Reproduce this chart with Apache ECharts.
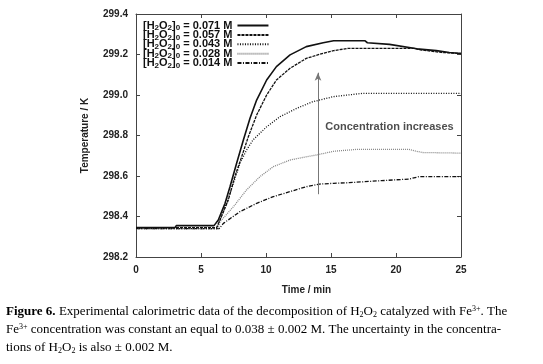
<!DOCTYPE html>
<html>
<head>
<meta charset="utf-8">
<script src="https://cdn.jsdelivr.net/npm/echarts@6/dist/echarts.min.js"></script>
<style>
  html, body { margin: 0; padding: 0; background: #fff; }
  #chart { width: 543px; height: 364px; }
</style>
</head>
<body>
<div id="chart"></div>
<script>
// concentrations of H2O2 (M), one curve each
const concentrations = ['0.071', '0.057', '0.043', '0.028', '0.014']

// time (min) and temperature (K)
const t071 = [0, 3, 3.1, 6.0, 6.33, 6.85, 7.23, 7.74, 8.26, 8.77, 9.28, 10.05, 10.8, 11.85, 13.1, 14.4, 15.2, 17.6, 17.8, 19.5, 21.6, 23.1, 24.1, 25]
const T071 = [298.345, 298.345, 298.355, 298.355, 298.383, 298.465, 298.547, 298.663, 298.778, 298.885, 298.975, 299.074, 299.14, 299.198, 299.239, 299.258, 299.268, 299.268, 299.258, 299.25, 299.228, 299.219, 299.21, 299.205]

const t057 = [0, 6.2, 6.46, 7.1, 7.6, 8.13, 8.64, 9.28, 10.05, 10.8, 11.85, 13.1, 14.4, 15.2, 16.3, 21.4, 22, 23.5, 25]
const T057 = [298.345, 298.345, 298.383, 298.481, 298.597, 298.695, 298.794, 298.901, 299.0, 299.074, 299.132, 299.181, 299.206, 299.219, 299.23, 299.23, 299.222, 299.21, 299.205]

const t043 = [0, 6.2, 6.46, 6.97, 7.49, 8.0, 8.5, 9.0, 10.05, 11.08, 12.36, 13.6, 15.2, 17.4, 25]
const T043 = [298.34, 298.34, 298.383, 298.465, 298.564, 298.663, 298.728, 298.778, 298.843, 298.893, 298.934, 298.967, 298.992, 299.008, 299.008]

const t028 = [0, 6.3, 6.46, 7.49, 8.5, 9.54, 10.56, 11.85, 13.1, 13.9, 15.2, 16.9, 21, 22, 25]
const T028 = [298.34, 298.34, 298.374, 298.448, 298.531, 298.597, 298.646, 298.679, 298.695, 298.704, 298.722, 298.731, 298.731, 298.716, 298.713]

const t014 = [0, 6.4, 6.72, 8.0, 9.28, 10.56, 11.85, 13.1, 14.1, 15.2, 16.4, 18.9, 21, 21.8, 25]
const T014 = [298.34, 298.34, 298.366, 298.424, 298.465, 298.498, 298.523, 298.547, 298.56, 298.564, 298.567, 298.577, 298.585, 298.597, 298.597]

// annotation arrow and its text
const arrowFrom = [14, 298.51]
const arrowTo = [14, 299.11]
const noteAt = [19.5, 298.84]
const noteText = 'Concentration increases'

const times = [t071, t057, t043, t028, t014]
const temps = [T071, T057, T043, T028, T014]
const lineStyles = [
  { color: '#111', width: 1.6, type: 'solid' },
  { color: '#111', width: 1.3, type: [3, 1] },
  { color: '#111', width: 1.3, type: [1, 1.5] },
  { color: '#888', width: 1.3, type: [1, 1] },
  { color: '#111', width: 1.3, type: [4, 1.5, 1, 1.5] }
]

const pairs = (xs, ys) => xs.map((x, i) => [x, ys[i]])

const chart = echarts.init(document.getElementById('chart'), null, { renderer: 'canvas' })

const series = concentrations.map((c, i) => ({
  name: c,
  type: 'line',
  data: pairs(times[i], temps[i]),
  showSymbol: false,
  symbol: 'none',
  lineStyle: lineStyles[i],
  itemStyle: { color: lineStyles[i].color },
  animation: false,
  z: 5 - i
}))

series.push({
  type: 'line',
  data: [],
  markLine: {
    silent: true,
    symbol: ['none', 'arrow'],
    symbolSize: [5, 8],
    label: { show: false },
    lineStyle: { color: '#777', width: 1, type: 'solid' },
    data: [[{ coord: arrowFrom }, { coord: arrowTo }]],
    animation: false
  }
})

series.push({
  type: 'scatter',
  data: [noteAt],
  symbolSize: 0,
  label: {
    show: true,
    position: 'inside',
    formatter: noteText,
    fontFamily: 'Liberation Sans',
    fontWeight: 'bold',
    fontSize: 11,
    color: '#222'
  },
  animation: false
})

const axisFont = { fontFamily: 'Liberation Sans', fontWeight: 'bold', fontSize: 10, color: '#222' }
const sub = { fontSize: 8, fontWeight: 'bold', fontFamily: 'Liberation Sans', color: '#111', padding: [5, 0, 0, 0] }
const sup = { fontSize: 8, fontFamily: 'Liberation Serif', color: '#111', padding: [0, 0, 5, 0] }
const cap = { fontSize: 13, fontFamily: 'Liberation Serif', color: '#111' }

chart.setOption({
  animation: false,
  grid: { left: 136, right: 82, top: 14, bottom: 107 },
  legend: {
    data: concentrations,
    orient: 'vertical',
    left: 143,
    top: 19,
    align: 'right',
    itemWidth: 31,
    itemHeight: 6,
    itemGap: -3.6,
    padding: 0,
    itemStyle: { opacity: 0 },
    formatter: (name) => `{b|[H}{s|2}{b|O}{s|2}{b|]}{s|0}{b| = ${name} M}`,
    textStyle: {
      padding: [0, 0, 0, 0],
      rich: {
        b: { fontSize: 11, fontWeight: 'bold', fontFamily: 'Liberation Sans', color: '#111', lineHeight: 9 },
        s: Object.assign({ lineHeight: 9 }, sub)
      }
    }
  },
  xAxis: [
    {
      type: 'value', min: 0, max: 25, interval: 5,
      name: 'Time / min', nameLocation: 'middle', nameGap: 28,
      nameTextStyle: { fontFamily: 'Liberation Sans', fontWeight: 'bold', fontSize: 10, color: '#222', padding: [0, 0, 0, 16] },
      axisLine: { onZero: false, lineStyle: { color: '#444', width: 1 } },
      axisTick: { inside: true, length: 4, lineStyle: { color: '#444' } },
      axisLabel: Object.assign({ margin: 8 }, axisFont),
      splitLine: { show: false }
    },
    {
      type: 'value', min: 0, max: 25, interval: 5, position: 'top',
      axisLine: { onZero: false, lineStyle: { color: '#444', width: 1 } },
      axisTick: { inside: true, length: 4, lineStyle: { color: '#444' } },
      axisLabel: { show: false },
      splitLine: { show: false }
    }
  ],
  yAxis: [
    {
      type: 'value', min: 298.2, max: 299.4, interval: 0.2,
      name: 'Temperature / K', nameLocation: 'middle', nameGap: 46, nameRotate: 90,
      nameTextStyle: { fontFamily: 'Liberation Sans', fontWeight: 'bold', fontSize: 10, color: '#222' },
      axisLine: { show: true, onZero: false, lineStyle: { color: '#444', width: 1 } },
      axisTick: { show: true, inside: true, length: 4, lineStyle: { color: '#444' } },
      axisLabel: Object.assign({ margin: 8, formatter: (v) => v.toFixed(1) }, axisFont),
      splitLine: { show: false }
    },
    {
      type: 'value', min: 298.2, max: 299.4, interval: 0.2, position: 'right',
      axisLine: { show: true, onZero: false, lineStyle: { color: '#444', width: 1 } },
      axisTick: { show: true, inside: true, length: 4, lineStyle: { color: '#444' } },
      axisLabel: { show: false },
      splitLine: { show: false }
    }
  ],
  graphic: [
    {
      type: 'text', left: 6, top: 305,
      style: {
        text: '{fb|Figure 6.} {c|Experimental calorimetric data of the decomposition of H}{s|2}{c|O}{s|2}{c| catalyzed with Fe}{p|3+}{c|. The}',
        rich: { fb: Object.assign({}, cap, { fontWeight: 'bold' }), c: cap, s: { fontSize: 8, fontFamily: 'Liberation Serif', color: '#111', padding: [6, 0, 0, 0] }, p: sup }
      }
    },
    {
      type: 'text', left: 6, top: 323,
      style: {
        text: '{c|Fe}{p|3+}{c| concentration was constant an equal to 0.038 ± 0.002 M. The uncertainty in the concentra-}',
        rich: { c: cap, p: sup }
      }
    },
    {
      type: 'text', left: 6, top: 341,
      style: {
        text: '{c|tions of H}{s|2}{c|O}{s|2}{c| is also ± 0.002 M.}',
        rich: { c: cap, s: { fontSize: 8, fontFamily: 'Liberation Serif', color: '#111', padding: [6, 0, 0, 0] } }
      }
    }
  ],
  series
})
</script>
</body>
</html>
